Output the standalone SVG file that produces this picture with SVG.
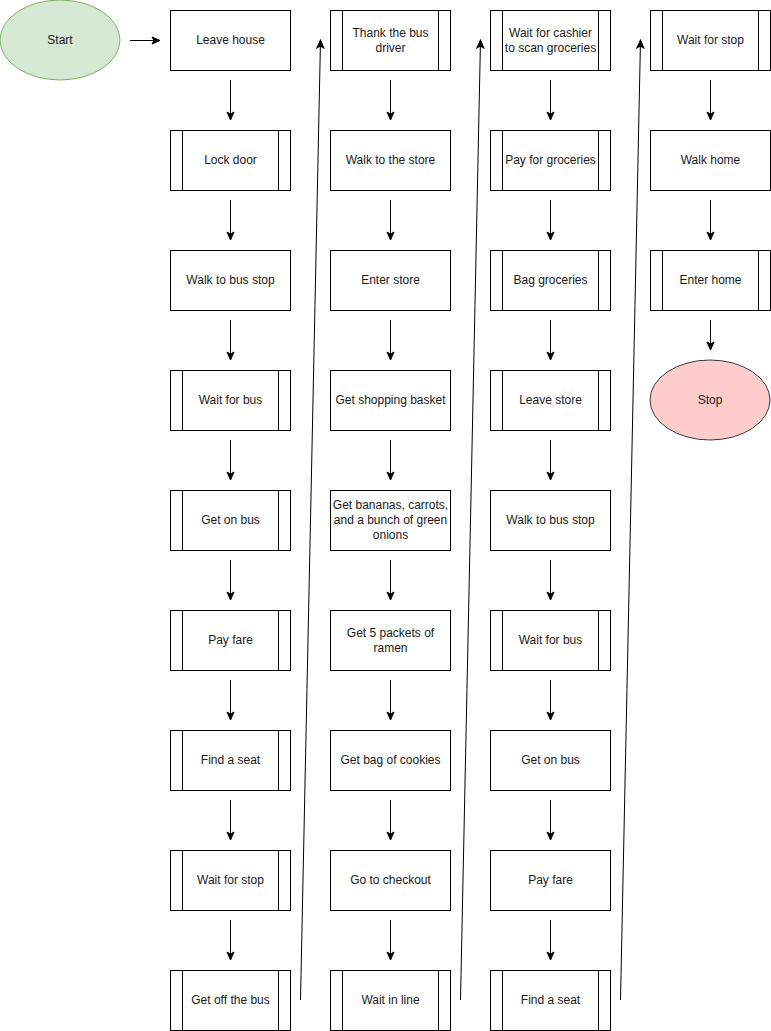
<svg xmlns="http://www.w3.org/2000/svg" width="771" height="1031" viewBox="0 0 771 1031">
  <style>
    .box { fill: #ffffff; stroke: #000000; stroke-width: 1; }
    .sub { fill: none; stroke: #000000; stroke-width: 1; }
    .lbl { font-family: "Liberation Sans", Arial, sans-serif; font-size: 12px; fill: #1a1a1a; text-anchor: middle; dominant-baseline: central; }
    .edge { fill: none; stroke: #000000; stroke-width: 1; marker-end: url(#arrow); }
    .start { fill: #d5e8d4; stroke: #82b366; stroke-width: 1; }
    .stop { fill: #ffcccc; stroke: #36393d; stroke-width: 1; }
  </style>
  <defs>
    <marker id="arrow" markerUnits="userSpaceOnUse" markerWidth="10" markerHeight="10" viewBox="0 0 10 10" refX="9" refY="5" orient="auto">
      <path d="M1,1.5 L9,5 L1,8.5 L3,5 Z" fill="#000000" stroke="#000000" stroke-width="1"/>
    </marker>
  </defs>
  <rect width="771" height="1031" fill="#ffffff"/>

  <!-- terminators -->
  <g id="start">
    <ellipse class="start" cx="60" cy="40" rx="60" ry="40"/>
    <text class="lbl" x="60" y="40">Start</text>
  </g>
  <g id="stop">
    <ellipse class="stop" cx="710" cy="400" rx="60" ry="40"/>
    <text class="lbl" x="710" y="400">Stop</text>
  </g>

  <!-- column 1 -->
  <g id="leave-house"><rect class="box" x="170.5" y="10.5" width="120" height="60"/><text class="lbl" x="230.5" y="40">Leave house</text></g>
  <g id="lock-door"><rect class="box" x="170.5" y="130.5" width="120" height="60"/><path class="sub" d="M182.5,130.5V190.5M278.5,130.5V190.5"/><text class="lbl" x="230.5" y="160">Lock door</text></g>
  <g id="walk-to-bus-stop-1"><rect class="box" x="170.5" y="250.5" width="120" height="60"/><text class="lbl" x="230.5" y="280">Walk to bus stop</text></g>
  <g id="wait-for-bus-1"><rect class="box" x="170.5" y="370.5" width="120" height="60"/><path class="sub" d="M182.5,370.5V430.5M278.5,370.5V430.5"/><text class="lbl" x="230.5" y="400">Wait for bus</text></g>
  <g id="get-on-bus-1"><rect class="box" x="170.5" y="490.5" width="120" height="60"/><path class="sub" d="M182.5,490.5V550.5M278.5,490.5V550.5"/><text class="lbl" x="230.5" y="520">Get on bus</text></g>
  <g id="pay-fare-1"><rect class="box" x="170.5" y="610.5" width="120" height="60"/><path class="sub" d="M182.5,610.5V670.5M278.5,610.5V670.5"/><text class="lbl" x="230.5" y="640">Pay fare</text></g>
  <g id="find-seat-1"><rect class="box" x="170.5" y="730.5" width="120" height="60"/><path class="sub" d="M182.5,730.5V790.5M278.5,730.5V790.5"/><text class="lbl" x="230.5" y="760">Find a seat</text></g>
  <g id="wait-for-stop-1"><rect class="box" x="170.5" y="850.5" width="120" height="60"/><path class="sub" d="M182.5,850.5V910.5M278.5,850.5V910.5"/><text class="lbl" x="230.5" y="880">Wait for stop</text></g>
  <g id="get-off-bus"><rect class="box" x="170.5" y="970.5" width="120" height="60"/><path class="sub" d="M182.5,970.5V1030.5M278.5,970.5V1030.5"/><text class="lbl" x="230.5" y="1000">Get off the bus</text></g>

  <!-- column 2 -->
  <g id="thank-driver"><rect class="box" x="330.5" y="10.5" width="120" height="60"/><path class="sub" d="M342.5,10.5V70.5M438.5,10.5V70.5"/><text class="lbl" x="390.5" y="32.5">Thank the bus</text><text class="lbl" x="390.5" y="47.5">driver</text></g>
  <g id="walk-to-store"><rect class="box" x="330.5" y="130.5" width="120" height="60"/><text class="lbl" x="390.5" y="160">Walk to the store</text></g>
  <g id="enter-store"><rect class="box" x="330.5" y="250.5" width="120" height="60"/><text class="lbl" x="390.5" y="280">Enter store</text></g>
  <g id="get-basket"><rect class="box" x="330.5" y="370.5" width="120" height="60"/><text class="lbl" x="390.5" y="400">Get shopping basket</text></g>
  <g id="get-produce"><rect class="box" x="330.5" y="490.5" width="120" height="60"/><text class="lbl" x="390.5" y="505">Get bananas, carrots,</text><text class="lbl" x="390.5" y="520">and a bunch of green</text><text class="lbl" x="390.5" y="535">onions</text></g>
  <g id="get-ramen"><rect class="box" x="330.5" y="610.5" width="120" height="60"/><text class="lbl" x="390.5" y="632.5">Get 5 packets of</text><text class="lbl" x="390.5" y="647.5">ramen</text></g>
  <g id="get-cookies"><rect class="box" x="330.5" y="730.5" width="120" height="60"/><text class="lbl" x="390.5" y="760">Get bag of cookies</text></g>
  <g id="go-to-checkout"><rect class="box" x="330.5" y="850.5" width="120" height="60"/><text class="lbl" x="390.5" y="880">Go to checkout</text></g>
  <g id="wait-in-line"><rect class="box" x="330.5" y="970.5" width="120" height="60"/><path class="sub" d="M342.5,970.5V1030.5M438.5,970.5V1030.5"/><text class="lbl" x="390.5" y="1000">Wait in line</text></g>

  <!-- column 3 -->
  <g id="wait-for-cashier"><rect class="box" x="490.5" y="10.5" width="120" height="60"/><path class="sub" d="M502.5,10.5V70.5M598.5,10.5V70.5"/><text class="lbl" x="550.5" y="32.5">Wait for cashier</text><text class="lbl" x="550.5" y="47.5">to scan groceries</text></g>
  <g id="pay-groceries"><rect class="box" x="490.5" y="130.5" width="120" height="60"/><path class="sub" d="M502.5,130.5V190.5M598.5,130.5V190.5"/><text class="lbl" x="550.5" y="160">Pay for groceries</text></g>
  <g id="bag-groceries"><rect class="box" x="490.5" y="250.5" width="120" height="60"/><path class="sub" d="M502.5,250.5V310.5M598.5,250.5V310.5"/><text class="lbl" x="550.5" y="280">Bag groceries</text></g>
  <g id="leave-store"><rect class="box" x="490.5" y="370.5" width="120" height="60"/><path class="sub" d="M502.5,370.5V430.5M598.5,370.5V430.5"/><text class="lbl" x="550.5" y="400">Leave store</text></g>
  <g id="walk-to-bus-stop-2"><rect class="box" x="490.5" y="490.5" width="120" height="60"/><text class="lbl" x="550.5" y="520">Walk to bus stop</text></g>
  <g id="wait-for-bus-2"><rect class="box" x="490.5" y="610.5" width="120" height="60"/><path class="sub" d="M502.5,610.5V670.5M598.5,610.5V670.5"/><text class="lbl" x="550.5" y="640">Wait for bus</text></g>
  <g id="get-on-bus-2"><rect class="box" x="490.5" y="730.5" width="120" height="60"/><text class="lbl" x="550.5" y="760">Get on bus</text></g>
  <g id="pay-fare-2"><rect class="box" x="490.5" y="850.5" width="120" height="60"/><text class="lbl" x="550.5" y="880">Pay fare</text></g>
  <g id="find-seat-2"><rect class="box" x="490.5" y="970.5" width="120" height="60"/><path class="sub" d="M502.5,970.5V1030.5M598.5,970.5V1030.5"/><text class="lbl" x="550.5" y="1000">Find a seat</text></g>

  <!-- column 4 -->
  <g id="wait-for-stop-2"><rect class="box" x="650.5" y="10.5" width="120" height="60"/><path class="sub" d="M662.5,10.5V70.5M758.5,10.5V70.5"/><text class="lbl" x="710.5" y="40">Wait for stop</text></g>
  <g id="walk-home"><rect class="box" x="650.5" y="130.5" width="120" height="60"/><text class="lbl" x="710.5" y="160">Walk home</text></g>
  <g id="enter-home"><rect class="box" x="650.5" y="250.5" width="120" height="60"/><path class="sub" d="M662.5,250.5V310.5M758.5,250.5V310.5"/><text class="lbl" x="710.5" y="280">Enter home</text></g>

  <!-- connectors -->
  <g id="connectors">
    <path class="edge" d="M130,40.5H160"/>
    <path class="edge" d="M230.5,80V120"/>
    <path class="edge" d="M230.5,200V240"/>
    <path class="edge" d="M230.5,320V360"/>
    <path class="edge" d="M230.5,440V480"/>
    <path class="edge" d="M230.5,560V600"/>
    <path class="edge" d="M230.5,680V720"/>
    <path class="edge" d="M230.5,800V840"/>
    <path class="edge" d="M230.5,920V960"/>
    <path class="edge" d="M300.5,1000L320.5,40"/>
    <path class="edge" d="M390.5,80V120"/>
    <path class="edge" d="M390.5,200V240"/>
    <path class="edge" d="M390.5,320V360"/>
    <path class="edge" d="M390.5,440V480"/>
    <path class="edge" d="M390.5,560V600"/>
    <path class="edge" d="M390.5,680V720"/>
    <path class="edge" d="M390.5,800V840"/>
    <path class="edge" d="M390.5,920V960"/>
    <path class="edge" d="M460.5,1000L480.5,40"/>
    <path class="edge" d="M550.5,80V120"/>
    <path class="edge" d="M550.5,200V240"/>
    <path class="edge" d="M550.5,320V360"/>
    <path class="edge" d="M550.5,440V480"/>
    <path class="edge" d="M550.5,560V600"/>
    <path class="edge" d="M550.5,680V720"/>
    <path class="edge" d="M550.5,800V840"/>
    <path class="edge" d="M550.5,920V960"/>
    <path class="edge" d="M620.5,1000L640.5,40"/>
    <path class="edge" d="M710.5,80V120"/>
    <path class="edge" d="M710.5,200V240"/>
    <path class="edge" d="M710.5,320V350"/>
  </g>
</svg>
